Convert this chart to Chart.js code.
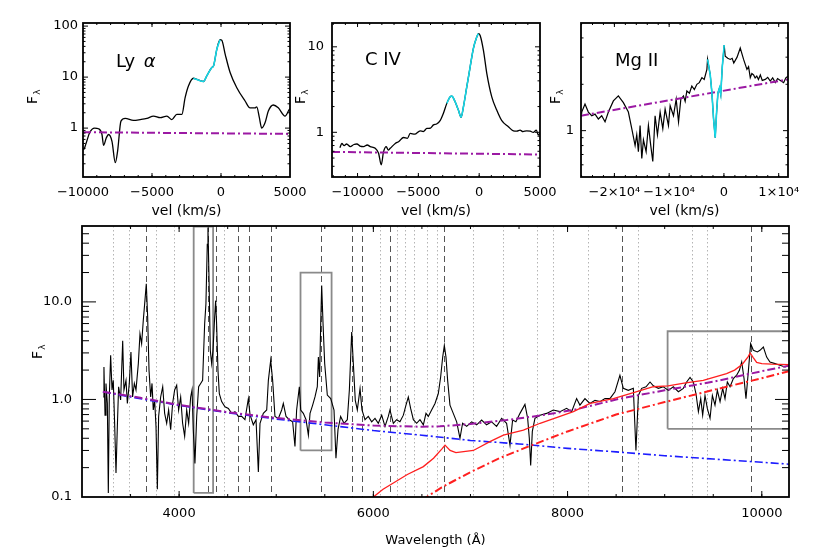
<!DOCTYPE html>
<html>
<head>
<meta charset="utf-8">
<title>Quasar spectrum</title>
<script src="https://cdn.jsdelivr.net/npm/chart.js@4.4.1/dist/chart.umd.min.js"></script>
<style>
  html, body { margin: 0; padding: 0; background: #fff; }
  #page { position: relative; width: 830px; height: 554px; overflow: hidden; }
  #page canvas { position: absolute; }
</style>
</head>
<body>
<div id="page">
  <canvas id="specChart" width="830" height="334" style="left:0;top:220px"></canvas>
  <canvas id="lyaChart" width="320" height="225" style="left:0;top:0"></canvas>
  <canvas id="civChart" width="280" height="225" style="left:290px;top:0"></canvas>
  <canvas id="mgChart" width="270" height="225" style="left:540px;top:0"></canvas>
</div>
<script>
const FONT = "'DejaVu Sans', 'Liberation Sans', sans-serif";

// ---- Ly alpha panel: [velocity km/s, flux] ----
const lyaLine = [[-10000,0.40],[-9955,0.38],[-9800,0.48],[-9520,0.81],[-9160,1.0],[-8870,0.97],[-8625,0.75],[-8510,0.46],
  [-8315,0.64],[-8150,0.75],[-7900,0.55],[-7660,0.21],[-7495,0.35],[-7250,1.37],[-6940,1.55],[-6340,1.42],[-5855,1.47],
  [-5370,1.55],[-4890,1.72],[-4405,1.6],[-3920,1.72],[-3560,1.47],[-3200,1.86],[-2836,1.86],[-2600,3.95],[-2360,6.7],
  [-1997,9.5],[-1755,9.0],[-1270,8.2],[-1030,10.6],[-665,15.4],[-545,16.5],[-300,35.5],[-65,54],[56,53],[300,28.3],
  [660,12.3],[1145,6.2],[1745,3.4],[2105,2.5],[2470,2.5],[2590,2.6],[2780,1.6],[2950,1.0],[3190,1.27],[3430,2.16],
  [3790,2.84],[4150,2.5],[4640,1.72],[4950,2.33],[5000,2.4]];
const lyaFit = [[-1997,9.5],[-1755,9.0],[-1270,8.2],[-1030,10.6],[-665,15.4],[-545,16.5],[-300,35.5],[-65,54]];
const lyaCont = [[-10000,0.83],[5000,0.77]];
const lyaTicksX = [-10000, -5000, 0, 5000];
const lyaTicksY = [1, 10, 100];
const lyaMinorY = [0.2,0.3,0.4,0.5,0.6,0.7,0.8,0.9,2,3,4,5,6,7,8,9,20,30,40,50,60,70,80,90];

// ---- C IV panel ----
const civLine = [[-11450,0.66],[-11290,0.74],[-11100,0.70],[-10900,0.73],[-10600,0.68],[-10300,0.72],[-10050,0.73],
  [-9800,0.69],[-9500,0.68],[-9200,0.71],[-8955,0.68],[-8545,0.65],[-8270,0.57],[-8050,0.415],[-7865,0.59],[-7640,0.68],
  [-7480,0.62],[-7315,0.65],[-6900,0.74],[-6600,0.78],[-6220,0.87],[-5900,0.85],[-5670,0.97],[-5300,0.95],[-4850,1.04],
  [-4600,1.02],[-4300,1.11],[-4000,1.12],[-3760,1.22],[-3500,1.25],[-3210,1.37],[-2940,1.67],[-2660,2.18],[-2390,2.6],
  [-2255,2.65],[-1980,2.28],[-1710,1.82],[-1485,1.5],[-1295,1.99],[-1020,3.4],[-745,5.8],[-475,9.6],[-200,13.0],
  [-60,14.3],[80,13.6],[350,9.1],[625,4.9],[1035,2.6],[1445,1.82],[1860,1.37],[2400,1.16],[2810,1.04],[3100,1.03],
  [3360,1.06],[3600,1.02],[3900,1.04],[4200,1.03],[4450,1.0],[4700,1.06],[4860,0.93],[5000,0.98]];
const civFit = [[-2660,2.18],[-2390,2.6],[-2255,2.65],[-1980,2.28],[-1710,1.82],[-1485,1.5],[-1295,1.99],[-1020,3.4],
  [-745,5.8],[-475,9.6],[-200,13.0],[-60,14.3]];
const civCont = [[-12100,0.59],[5000,0.55]];
const civTicksX = [-10000, -5000, 0, 5000];
const civTicksY = [1, 10];
const civMinorY = [0.4,0.5,0.6,0.7,0.8,0.9,2,3,4,5,6,7,8,9];

// ---- Mg II panel ----
const mgLine = [[-26100,1.30],[-25970,1.32],[-25370,1.49],[-24760,1.32],[-24140,1.25],[-23540,1.28],[-22930,1.19],
  [-22320,1.25],[-21710,1.14],[-21100,1.32],[-20190,1.56],[-19280,1.68],[-18360,1.52],[-17450,1.32],[-16830,1.03],
  [-16220,0.80],[-15920,0.94],[-15620,0.73],[-15310,1.08],[-15000,0.66],[-14700,0.87],[-14210,0.73],[-13790,1.08],
  [-13360,0.80],[-12990,0.63],[-12570,1.25],[-12140,0.94],[-11650,1.32],[-11160,1.03],[-10740,1.38],[-10130,1.08],
  [-9820,1.45],[-9210,1.25],[-8720,1.60],[-8290,1.14],[-7870,1.60],[-7390,1.68],[-7080,1.55],[-6770,1.81],[-6300,1.75],
  [-5860,1.95],[-5400,1.85],[-4940,2.00],[-4500,2.05],[-4020,2.21],[-3600,2.15],[-3110,2.50],[-2990,2.90],[-2500,2.30],
  [-2200,1.77],[-1900,1.20],[-1590,0.90],[-1350,1.30],[-1100,1.75],[-800,1.90],[-580,1.72],[-300,2.60],[50,3.60],
  [235,3.04],[700,2.95],[1150,2.90],[1500,2.95],[1800,2.75],[2400,3.00],[2980,3.44],[3590,2.90],[4200,2.50],[4500,2.60],
  [4810,2.21],[5100,2.35],[5420,2.30],[5700,2.20],[6000,2.26],[6300,2.15],[6650,2.30],[7000,2.12],[7550,2.15],
  [8000,2.22],[8460,2.10],[8900,2.20],[9380,2.05],[9800,2.18],[10300,2.12],[10900,2.05],[11300,2.20],[11700,2.26]];
const mgFit = [[-2990,2.90],[-2500,2.30],[-2200,1.77],[-1900,1.20],[-1590,0.90],[-1350,1.30],[-1100,1.75],[-800,1.90],
  [-580,1.72],[-300,2.60],[50,3.60]];
const mgCont = [[-26100,1.25],[11700,2.15]];
const mgTicksX = [-20000, -10000, 0, 10000];
const mgTicksY = [1];
const mgMinorY = [0.6,0.7,0.8,0.9,2,3,4];

// ---- full spectrum: [wavelength A, flux] ----
const spectrum = [[3219,1.06],[3226,2.15],[3237,0.69],[3247,1.46],[3261,0.91],[3271,0.11],[3281,1.06],[3295,2.83],
  [3309,1.25],[3322,1.57],[3336,0.57],[3350,0.176],[3364,0.53],[3377,1.35],[3398,0.99],[3419,4.0],[3432,1.25],[3453,1.57],
  [3467,0.91],[3487,1.46],[3504,3.07],[3521,1.06],[3539,1.46],[3556,1.25],[3580,2.33],[3597,4.7],[3614,3.73],[3631,6.45],
  [3648,10.3],[3662,15.3],[3676,7.0],[3690,2.0],[3707,1.06],[3721,1.46],[3734,0.78],[3748,0.98],[3762,0.53],[3776,0.12],
  [3789,0.67],[3810,1.06],[3831,1.35],[3851,0.72],[3872,0.57],[3892,0.78],[3913,0.49],[3933,0.91],[3954,1.25],[3975,1.4],
  [3995,0.78],[4016,1.06],[4036,0.57],[4057,0.42],[4078,0.78],[4098,0.57],[4119,1.06],[4133,1.25],[4146,0.49],[4163,0.22],
  [4181,0.67],[4201,1.35],[4222,1.46],[4242,1.57],[4263,5.97],[4276,9.5],[4290,39],[4297,58],[4307,19.3],[4321,3.19],
  [4335,2.33],[4349,3.19],[4366,7.0],[4376,10.3],[4386,5.97],[4400,2.0],[4414,1.15],[4438,0.95],[4472,0.84],[4507,0.81],
  [4541,0.72],[4575,0.75],[4610,0.67],[4644,0.67],[4678,0.62],[4713,1.02],[4730,0.70],[4764,0.55],[4792,0.62],[4816,0.18],
  [4833,0.57],[4867,0.72],[4902,0.78],[4919,1.57],[4943,2.52],[4963,1.57],[4987,0.67],[5022,0.64],[5056,0.78],[5073,0.91],
  [5101,0.67],[5135,0.62],[5169,0.59],[5193,0.33],[5210,0.78],[5238,1.35],[5252,0.78],[5279,0.72],[5307,0.62],[5331,0.43],
  [5348,0.72],[5375,0.875],[5399,1.06],[5423,1.35],[5434,2.72],[5447,1.7],[5458,5.97],[5468,14.7],[5482,5.97],[5499,2.33],
  [5526,1.11],[5561,1.02],[5595,0.78],[5615,0.25],[5636,0.49],[5663,0.67],[5698,0.57],[5732,0.62],[5753,1.25],[5777,4.9],
  [5794,2.33],[5814,0.98],[5835,0.78],[5863,1.29],[5883,0.78],[5914,0.62],[5948,0.67],[5983,0.59],[6017,0.64],[6051,0.57],
  [6086,0.69],[6120,0.53],[6154,0.67],[6171,0.78],[6206,0.57],[6240,0.62],[6274,0.59],[6309,0.69],[6336,0.875],[6360,1.06],
  [6384,0.81],[6412,0.62],[6446,0.57],[6480,0.62],[6515,0.55],[6542,0.72],[6566,0.67],[6600,0.78],[6635,0.91],[6669,1.15],
  [6693,1.7],[6714,2.72],[6731,3.58],[6748,2.72],[6765,1.57],[6789,0.875],[6823,0.72],[6858,0.59],[6892,0.40],[6919,0.57],
  [6961,0.53],[7012,0.59],[7064,0.55],[7115,0.615],[7166,0.55],[7218,0.59],[7269,0.53],[7321,0.64],[7372,0.57],[7407,0.34],
  [7434,0.615],[7468,0.59],[7510,0.72],[7561,0.89],[7589,0.64],[7606,0.40],[7620,0.21],[7637,0.47],[7664,0.64],[7716,0.69],
  [7784,0.72],[7853,0.78],[7922,0.75],[7990,0.81],[8042,0.75],[8093,1.02],[8127,0.875],[8179,1.02],[8230,0.91],[8282,0.98],
  [8333,0.95],[8385,1.02],[8436,1.02],[8488,1.2],[8539,1.77],[8574,1.3],[8625,1.24],[8677,1.3],[8704,0.30],[8729,1.1],
  [8763,1.3],[8808,1.35],[8849,1.51],[8883,1.38],[8935,1.3],[8986,1.35],[9038,1.24],[9089,1.35],[9141,1.2],[9192,1.3],
  [9226,1.51],[9261,1.68],[9295,1.51],[9322,1.15],[9347,0.75],[9371,1.02],[9391,0.69],[9415,1.1],[9439,0.81],[9467,0.64],
  [9491,1.1],[9518,0.875],[9542,1.24],[9570,0.95],[9597,1.3],[9621,1.02],[9645,1.51],[9673,1.35],[9707,1.64],[9741,1.77],
  [9769,1.99],[9793,2.42],[9817,1.64],[9837,1.02],[9858,1.77],[9885,3.73],[9913,3.19],[9954,3.07],[9981,3.19],[10016,3.45],
  [10050,2.72],[10084,2.42],[10136,2.33],[10187,2.24],[10239,2.15],[10283,2.24]];
const powerLaw = [[3215,1.20],[3500,1.06],[4000,0.87],[4500,0.73],[5000,0.63],[5500,0.55],[6000,0.48],[6500,0.43],
  [7000,0.38],[7500,0.35],[8000,0.315],[8500,0.29],[9000,0.265],[9500,0.245],[10000,0.227],[10280,0.217]];
const hotDust = [[6500,0.092],[6550,0.10],[6700,0.125],[7000,0.18],[7300,0.25],[7600,0.33],[8000,0.47],[8500,0.70],
  [9000,0.94],[9500,1.25],[10000,1.65],[10280,1.95]];
const totalCont = [[3215,1.20],[3600,1.04],[4000,0.88],[4500,0.74],[5000,0.645],[5500,0.58],[6000,0.54],[6500,0.525],
  [6686,0.53],[7000,0.56],[7372,0.615],[7700,0.68],[8060,0.78],[8540,1.02],[9000,1.24],[9500,1.52],[10000,1.95],[10280,2.22]];
const modelLine = [[5950,0.095],[6000,0.10],[6100,0.12],[6206,0.139],[6350,0.17],[6515,0.205],[6620,0.25],[6704,0.31],
  [6738,0.34],[6790,0.30],[6850,0.285],[7030,0.30],[7200,0.37],[7339,0.43],[7545,0.486],[7717,0.57],[7900,0.66],
  [8060,0.75],[8232,0.91],[8472,1.02],[8713,1.2],[8883,1.35],[9035,1.38],[9200,1.47],[9397,1.57],[9637,1.84],[9720,2.0],
  [9800,2.3],[9860,2.75],[9880,3.0],[9910,2.7],[9947,2.4],[10000,2.33],[10100,2.3],[10280,2.28]];
// zoom windows: [wave min, wave max, flux min, flux max]
const zoomWindows = [[4150,4350,0.11,59],[5250,5570,0.30,20],[9030,10300,0.50,5.0]];
const strongLines = [3659,4297,4380,4606,4720,4941,5461,5785,5883,6171,6728,8557,9889];
const weakLines = [3322,3484,3767,3950,4467,6068,6244,6326,6419,6552,6655,7026,7335,7685,7850,8210,8720,9278,9439];
const specTicksX = [4000, 6000, 8000, 10000];
const specTicksY = [0.1, 1, 10];
const specMinorY = [0.2,0.3,0.4,0.5,0.6,0.7,0.8,0.9,2,3,4,5,6,7,8,9,20,30,40,50];

function range(a, b, step) {
  const out = [];
  for (let v = a; v <= b; v += step) out.push(v);
  return out;
}

function curve(points, color, width, extra) {
  return Object.assign({
    data: points.map(p => ({ x: p[0], y: p[1] })),
    borderColor: color,
    borderWidth: width,
    pointRadius: 0,
    fill: false,
    tension: 0
  }, extra || {});
}

function boxCurve(w) {
  const pts = [[w[0], w[2]], [w[0], w[3]], [w[1], w[3]], [w[1], w[2]], [w[0], w[2]]];
  return curve(pts, '#8a8a8a', 1.8);
}

// IDL-like frame: box, inward ticks on all sides, reference lines behind data
const idlFrame = {
  id: 'idlFrame',
  beforeDatasetsDraw(chart, args, o) {
    if (!o.vlines) return;
    const { ctx, chartArea: a } = chart;
    const xs = chart.scales.x;
    ctx.save();
    o.vlines.forEach(g => {
      ctx.strokeStyle = g.color;
      ctx.lineWidth = g.width;
      ctx.setLineDash(g.dash);
      g.values.forEach(v => {
        const p = Math.round(xs.getPixelForValue(v)) + 0.5;
        ctx.beginPath();
        ctx.moveTo(p, a.top);
        ctx.lineTo(p, a.bottom);
        ctx.stroke();
      });
    });
    ctx.restore();
  },
  afterDatasetsDraw(chart, args, o) {
    const { ctx, chartArea: a } = chart;
    const xs = chart.scales.x, ys = chart.scales.y;
    ctx.save();
    ctx.strokeStyle = '#000';
    ctx.lineWidth = 1;
    ctx.beginPath();
    [[o.xMajor, o.xLen], [o.xMinor, o.xLen / 2]].forEach(([vals, len]) => {
      vals.forEach(v => {
        const p = xs.getPixelForValue(v);
        if (p <= a.left || p >= a.right) return;
        ctx.moveTo(p, a.bottom); ctx.lineTo(p, a.bottom - len);
        ctx.moveTo(p, a.top); ctx.lineTo(p, a.top + len);
      });
    });
    [[o.yMajor, o.yLen], [o.yMinor, o.yLen / 2]].forEach(([vals, len]) => {
      vals.forEach(v => {
        const p = ys.getPixelForValue(v);
        if (p <= a.top || p >= a.bottom) return;
        ctx.moveTo(a.left, p); ctx.lineTo(a.left + len, p);
        ctx.moveTo(a.right, p); ctx.lineTo(a.right - len, p);
      });
    });
    ctx.stroke();
    ctx.lineWidth = o.width;
    ctx.strokeRect(a.left, a.top, a.right - a.left, a.bottom - a.top);
    ctx.restore();
  }
};

// F_lambda axis title and the line name inside the panel
const idlText = {
  id: 'idlText',
  afterDraw(chart, args, o) {
    const ctx = chart.ctx;
    ctx.save();
    ctx.fillStyle = '#000';
    ctx.translate(o.fx, o.fy);
    ctx.rotate(-Math.PI / 2);
    ctx.textAlign = 'center';
    ctx.textBaseline = 'middle';
    ctx.font = '14px ' + FONT;
    ctx.fillText('F', 0, 0);
    ctx.font = '9px ' + FONT;
    ctx.fillText('\u03bb', 8, 5);
    ctx.restore();
    if (o.label) {
      ctx.save();
      ctx.fillStyle = '#000';
      ctx.textAlign = 'left';
      ctx.textBaseline = 'middle';
      ctx.font = '18px ' + FONT;
      ctx.fillText(o.label, o.lx, o.ly);
      if (o.greek) {
        const w = ctx.measureText(o.label + ' ').width;
        ctx.font = 'italic 18px ' + FONT;
        ctx.fillText(o.greek, o.lx + w + 3, o.ly);
      }
      ctx.restore();
    }
  }
};

function velFmt(v) {
  return (v < 0 ? '\u2212' : '') + Math.abs(v);
}

function sciFmt(v) {
  if (v === 0) return '0';
  return (v < 0 ? '\u2212' : '') + Math.abs(v / 10000) + '\u00d710\u2074';
}

function drawPanel(id, o) {
  return new Chart(document.getElementById(id), {
    type: 'line',
    data: { datasets: o.datasets },
    plugins: [idlFrame, idlText],
    options: {
      responsive: false,
      animation: false,
      events: [],
      layout: { padding: o.pad },
      plugins: {
        legend: { display: false },
        tooltip: { enabled: false },
        idlFrame: o.frame,
        idlText: o.text
      },
      scales: {
        x: {
          type: 'linear',
          min: o.xMin,
          max: o.xMax,
          afterBuildTicks: s => { s.ticks = o.xTicks.map(v => ({ value: v })); },
          afterFit: s => { s.height = o.xh; s.paddingLeft = 0; s.paddingRight = 0; },
          grid: { display: false, drawTicks: false },
          border: { display: false },
          ticks: {
            color: '#000', font: { family: FONT, size: 13 }, padding: o.xPad,
            maxRotation: 0, autoSkip: false, callback: o.xFmt
          },
          title: {
            display: true, text: o.xTitle, color: '#000',
            font: { family: FONT, size: o.titleSize }, padding: { top: 0, bottom: o.titlePad }
          }
        },
        y: {
          type: 'logarithmic',
          min: o.yMin,
          max: o.yMax,
          afterBuildTicks: s => { s.ticks = o.yTicks.map(v => ({ value: v })); },
          afterFit: s => { s.width = o.yw; s.paddingTop = 0; s.paddingBottom = 0; },
          grid: { display: false, drawTicks: false },
          border: { display: false },
          ticks: {
            color: '#000', font: { family: FONT, size: 13 }, padding: o.yPad,
            autoSkip: false, callback: o.yFmt
          }
        }
      }
    }
  });
}

const PURPLE = '#9b19a3', CYAN = '#14d8e8', BLUE = '#1c1cff', RED = '#ff1f1f';
const DASHDOT = [8, 3, 2, 3];

drawPanel('lyaChart', {
  datasets: [
    curve(lyaFit, CYAN, 1.6, { cubicInterpolationMode: 'monotone' }),
    curve(lyaCont, PURPLE, 2, { borderDash: DASHDOT }),
    curve(lyaLine, '#000', 1.3, { cubicInterpolationMode: 'monotone' })
  ],
  pad: { left: 0, top: 23, right: 30, bottom: 0 },
  xMin: -10000, xMax: 5000, xTicks: lyaTicksX, xFmt: velFmt, xh: 48, xPad: 8,
  xTitle: 'vel (km/s)', titleSize: 14, titlePad: 5,
  yMin: 0.11, yMax: 115, yTicks: lyaTicksY, yFmt: v => String(v), yw: 83, yPad: 5,
  frame: { xMajor: lyaTicksX, xMinor: range(-10000, 5000, 1000), yMajor: lyaTicksY, yMinor: lyaMinorY, xLen: 4, yLen: 5, width: 1.8 },
  text: { fx: 33, fy: 100, label: 'Ly', greek: '\u03b1', lx: 116, ly: 62 }
});

drawPanel('civChart', {
  datasets: [
    curve(civFit, CYAN, 1.6, { cubicInterpolationMode: 'monotone' }),
    curve(civCont, PURPLE, 2, { borderDash: DASHDOT }),
    curve(civLine, '#000', 1.3, { cubicInterpolationMode: 'monotone' })
  ],
  pad: { left: 0, top: 23, right: 30, bottom: 0 },
  xMin: -12100, xMax: 5000, xTicks: civTicksX, xFmt: velFmt, xh: 48, xPad: 8,
  xTitle: 'vel (km/s)', titleSize: 14, titlePad: 5,
  yMin: 0.3, yMax: 19, yTicks: civTicksY, yFmt: v => String(v), yw: 42, yPad: 8,
  frame: { xMajor: civTicksX, xMinor: range(-12000, 5000, 1000), yMajor: civTicksY, yMinor: civMinorY, xLen: 4, yLen: 5, width: 1.8 },
  text: { fx: 11, fy: 100, label: 'C IV', lx: 75, ly: 60 }
});

drawPanel('mgChart', {
  datasets: [
    curve(mgFit, CYAN, 1.6),
    curve(mgCont, PURPLE, 2, { borderDash: DASHDOT }),
    curve(mgLine, '#000', 1.2)
  ],
  pad: { left: 0, top: 23, right: 22, bottom: 0 },
  xMin: -26100, xMax: 11700, xTicks: mgTicksX, xFmt: sciFmt, xh: 48, xPad: 8,
  xTitle: 'vel (km/s)', titleSize: 14, titlePad: 5,
  yMin: 0.5, yMax: 5, yTicks: mgTicksY, yFmt: v => String(v), yw: 41, yPad: 7,
  frame: { xMajor: mgTicksX, xMinor: range(-26000, 10000, 2000), yMajor: mgTicksY, yMinor: mgMinorY, xLen: 4, yLen: 5, width: 1.8 },
  text: { fx: 16, fy: 100, label: 'Mg II', lx: 75, ly: 61 }
});

drawPanel('specChart', {
  datasets: [
    curve(modelLine, RED, 1.3),
    curve(hotDust, RED, 2, { borderDash: DASHDOT }),
    curve(totalCont, PURPLE, 2, { borderDash: DASHDOT }),
    curve(powerLaw, BLUE, 1.6, { borderDash: DASHDOT }),
    curve(spectrum, '#000', 1.1)
  ].concat(zoomWindows.map(boxCurve)),
  pad: { left: 0, top: 6, right: 41, bottom: 0 },
  xMin: 3000, xMax: 10280, xTicks: specTicksX, xFmt: v => String(v), xh: 57, xPad: 9,
  xTitle: 'Wavelength (\u00c5)', titleSize: 13, titlePad: 6,
  yMin: 0.1, yMax: 60, yTicks: specTicksY, yFmt: v => v.toFixed(1), yw: 82, yPad: 10,
  frame: {
    xMajor: specTicksX, xMinor: range(3000, 10000, 500), yMajor: specTicksY, yMinor: specMinorY,
    xLen: 6, yLen: 14, width: 1.8,
    vlines: [
      { values: weakLines, color: '#b4b4b4', width: 1, dash: [1.5, 2.5] },
      { values: strongLines, color: '#555', width: 1, dash: [6, 4] }
    ]
  },
  text: { fx: 38, fy: 135 }
});
</script>
</body>
</html>
